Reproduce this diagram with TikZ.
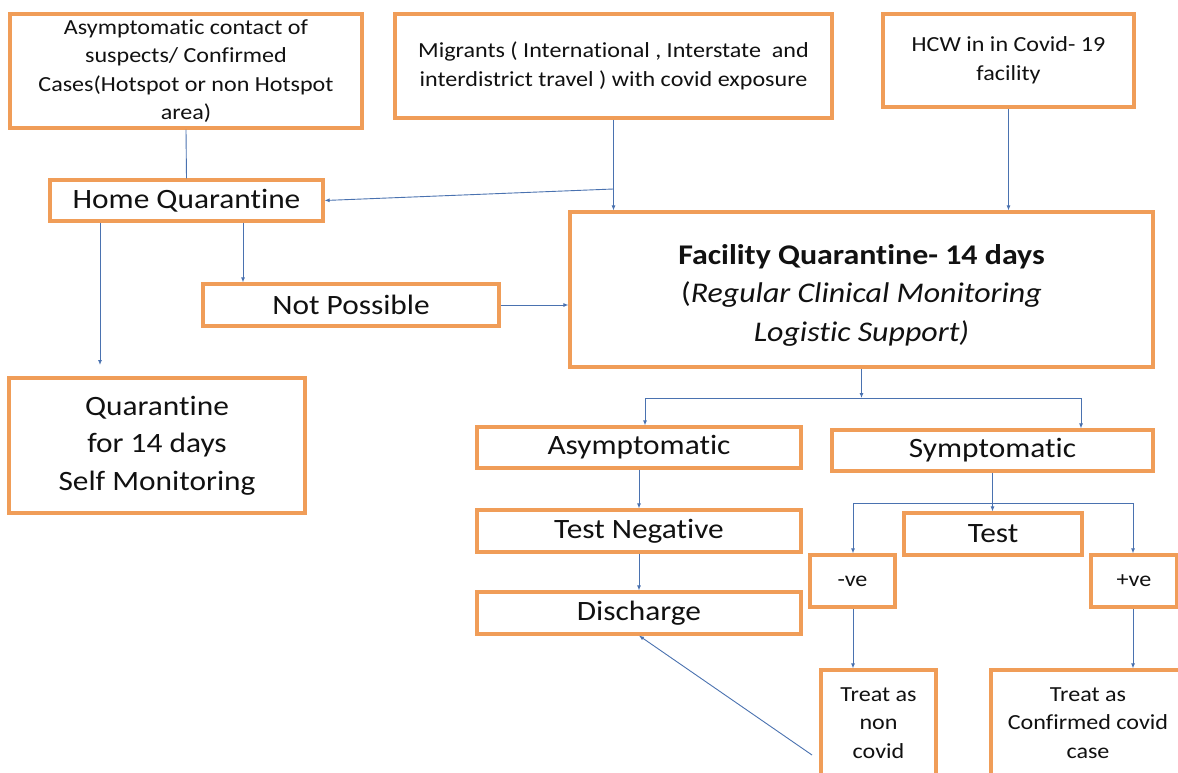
\documentclass[tikz,border=0pt]{standalone}
\usepackage{fontspec}
\setmainfont{Carlito}[FakeStretch=1.12, Ligatures={NoCommon,NoRare,NoDiscretionary,NoContextual}]
\usetikzlibrary{arrows.meta}
\definecolor{boxorange}{HTML}{F09D58}
\definecolor{linkblue}{HTML}{4A72B0}
\definecolor{txtcol}{HTML}{111111}
\newcommand\fbig{\fontsize{28}{37.5}\selectfont}
\newcommand\fsmall{\fontsize{21.5}{28.5}\selectfont}
\newcommand\ffac{\fontsize{28.5}{38.5}\selectfont}
\newcommand\tI{t\kern0pt i}
\tikzset{
  box/.style={draw=boxorange, line width=3.2pt, fill=white, text=txtcol,
    align=center, inner sep=0pt, font=\fbig},
  smallbox/.style={box, font=\fsmall},
  link/.style={draw=linkblue, line width=0.9pt},
  arr/.style={link, -{Latex[length=5pt,width=4pt]}}
}
\begin{document}
\begin{tikzpicture}[x=1pt,y=-1pt]
\useasboundingbox (0,0) rectangle (1178,773);
\clip (0,0) rectangle (1178,773);
\fill[white] (0,0) rectangle (1178,773);
% boxes
\node[smallbox, minimum width=352, minimum height=114] (src) at (186,71)
  {Asymptoma\tI c contact of\\ suspects/ Confirmed\\ Cases(Hotspot or non Hotspot\\ area)};
\node[smallbox, minimum width=437, minimum height=104] (mig) at (613.5,66)
  {Migrants ( Interna\tI onal , Interstate~ and\\ interdistrict travel ) with covid exposure};
\node[smallbox, minimum width=251, minimum height=93] (hcw) at (1008.5,60.5)
  {HCW in in Covid- 19\\ facility};
\node[box, minimum width=273, minimum height=41] (hq) at (186.5,200.5) {Home Quaran\tI ne};
\node[box, font=\ffac, minimum width=583, minimum height=155] (fac) at (861.5,289.5)
  {\rule{0pt}{31pt}\textbf{Facility Quaran\tI ne- 14 days}\\ (\textit{Regular Clinical Monitoring}\\ \textit{Logis\tI c Support)}};
\node[box, minimum width=296, minimum height=42] (np) at (351,305) {Not Possible};
\node[box, minimum width=296, minimum height=135] (q14) at (157,445.5)
  {Quaran\tI ne\\ for 14 days\\ Self Monitoring};
\node[box, minimum width=324, minimum height=41] (asym) at (639,447.5) {Asymptoma\tI c};
\node[box, minimum width=321, minimum height=41] (sym) at (992.5,450.5) {Symptoma\tI c};
\node[box, minimum width=324, minimum height=42] (tneg) at (639,531) {Test Nega\tI ve};
\node[box, minimum width=324, minimum height=42] (dis) at (639,613) {Discharge};
\node[box, minimum width=178, minimum height=42] (test) at (993,534) {Test};
\node[smallbox, minimum width=85, minimum height=52] (neg) at (852.5,581) {-ve};
\node[smallbox, minimum width=86, minimum height=52] (pos) at (1134,581) {+ve};
\node[smallbox, minimum width=115, minimum height=106] (nonc) at (878.5,723)
  {Treat as\\ non\\ covid};
\node[smallbox, minimum width=194, minimum height=106] (conf) at (1088,723)
  {Treat as\\ Confirmed covid\\ case};
% helper coordinates
\coordinate (mj) at (613.5,189);
\coordinate (qa) at (100,365);
\coordinate (ha) at (243,0);
\coordinate (fl) at (645,398);
\coordinate (fr) at (1081,398);
\coordinate (sl) at (853,503);
\coordinate (sr) at (1133,503);
\coordinate (nd) at (812,755);
% connectors
\draw[link] (src.south) -- (hq.north);
\draw[link] (mig.south) -- (mj);
\draw[arr] (mj) -- (mj |- fac.north);
\draw[arr] (mj) -- (hq.east);
\draw[arr] (hcw.south) -- (hcw.south |- fac.north);
\draw[arr] (hq.south -| qa) -- (qa);
\draw[arr] (hq.south -| ha) -- (np.north -| ha);
\draw[arr] (np.east) -- (np.east -| fac.west);
\draw[arr] (fac.south) -- (fac.south |- fl);
\draw[link] (fl) -- (fr);
\draw[arr] (fl) -- (fl |- asym.north);
\draw[arr] (fr) -- (fr |- sym.north);
\draw[arr] (asym.south) -- (tneg.north);
\draw[arr] (tneg.south) -- (dis.north);
\draw[arr] (sym.south) -- (sym.south |- test.north);
\draw[link] (sl) -- (sr);
\draw[arr] (sl) -- (sl |- neg.north);
\draw[arr] (sr) -- (sr |- pos.north);
\draw[arr] (neg.south -| sl) -- (sl |- nonc.north);
\draw[arr] (pos.south -| sr) -- (sr |- conf.north);
\draw[arr] (nd) -- (dis.south);
\end{tikzpicture}
\end{document}
